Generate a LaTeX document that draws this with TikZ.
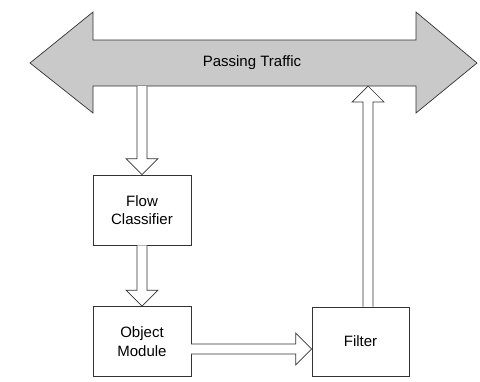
\documentclass[tikz,border=0pt]{standalone}
\usepackage{fontspec}
\setmainfont{Liberation Sans}
\usetikzlibrary{calc}

% hollow block arrow from #1 to the tip #2
\newcommand{\blockarrow}[2]{%
  \coordinate (h) at ($(#2)!16pt!(#1)$);
  \filldraw[hollow] ($(#1)!5pt!90:(#2)$) -- ($(h)!5pt!90:(#2)$) -- ($(h)!16pt!90:(#2)$)
    -- (#2) -- ($(h)!16pt!-90:(#2)$) -- ($(h)!5pt!-90:(#2)$) -- ($(#1)!5pt!-90:(#2)$);
}

\begin{document}
\begin{tikzpicture}[x=1pt, y=-1pt,
    font=\fontsize{15}{18.5}\selectfont,
    stage/.style ={rectangle, draw=black!80, line width=0.7pt, align=center,
                   minimum width=98pt, minimum height=70pt, inner sep=0pt},
    hollow/.style ={draw=black!80, fill=white, line width=0.7pt, line join=miter}]
   \useasboundingbox (0,0) rectangle (480,381);

   \filldraw[draw=black!80, fill=black!21, line width=0.7pt]
     (30,63) -- (93,12) -- (93,40) -- (416,40) -- (416,12) -- (477,63)
     -- (416,113) -- (416,86) -- (93,86) -- (93,113) -- cycle;
   \node (traffic) at (252,63) {Passing Traffic};

   \node[stage] (classifier) at (142,210)   {Flow\\Classifier};
   \node[stage] (module)     at (142,341.5) {Object\\Module};
   \node[stage, minimum width=97pt, minimum height=69pt] (filter) at (360.5,341.5) {Filter};

   \coordinate (tin)  at (142,86);
   \coordinate (tout) at (368,86);
   \coordinate (mout) at (191,349);
   \coordinate (fin)  at (filter.west |- mout);
   \coordinate (fout) at (filter.north -| tout);

   \blockarrow{tin}{classifier.north}
   \blockarrow{classifier.south}{module.north}
   \blockarrow{mout}{fin}
   \blockarrow{fout}{tout}
 \end{tikzpicture}
\end{document}
